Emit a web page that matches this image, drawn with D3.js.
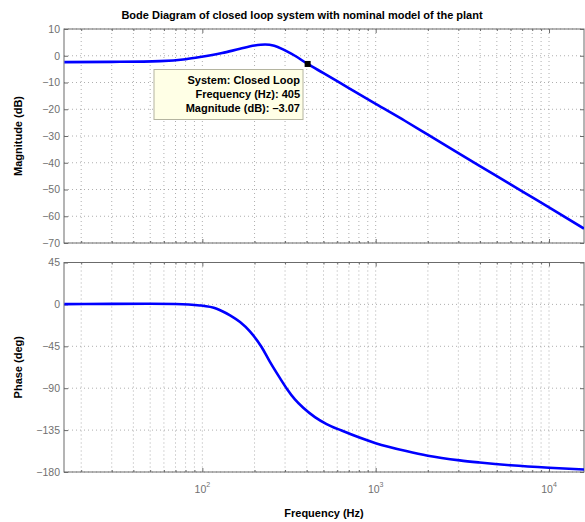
<!DOCTYPE html>
<html>
<head>
<meta charset="utf-8">
<script src="https://cdn.jsdelivr.net/npm/d3@7"></script>
<style>
  html, body { margin: 0; padding: 0; background: #fff; }
  svg { display: block; font-family: "Liberation Sans", Arial, sans-serif; }
</style>
</head>
<body>
<svg id="chart" width="585" height="522"></svg>
<script>
// ---- Data ----
const freqDomain = [15.915, 15915];

const magFreq = [16, 30, 57, 80, 97, 130, 165, 200, 230, 260, 290, 342, 405, 500, 700, 1000, 1472, 2000, 3000, 5000, 7000, 10000, 15915];
const magDb   = [-2.4, -2.3, -2.0, -1.3, -0.5, 1.0, 2.6, 3.8, 4.2, 3.7, 2.5, 0, -3.07, -6.5, -12.1, -18.0, -24.3, -29.5, -36.4, -45.0, -50.7, -56.7, -64.6];

const phaseFreq = [16, 30, 50, 70, 97, 121, 144.5, 165, 188, 220, 245, 281, 307, 342, 382, 446, 521, 636, 1000, 1500, 2000, 3055, 3980, 6000, 10000, 15915];
const phaseDeg  = [0.3, 0.6, 0.7, 0.5, -1.1, -4.6, -11.8, -19, -29, -46, -61.5, -79.5, -90.5, -102, -111, -121, -128.5, -135.5, -149, -157.5, -162.5, -167.5, -169.8, -172.8, -175.5, -177.3];

const magTicks   = [10, 0, -10, -20, -30, -40, -50, -60, -70];
const phaseTicks = [45, 0, -45, -90, -135, -180];
const freqMajor  = [100, 1000, 10000];
const freqMajorLabels = [["10", "2"], ["10", "3"], ["10", "4"]];

const titleText = "Bode Diagram of closed loop system with nominal model of the plant";
const magLabel = "Magnitude (dB)";
const phaseLabel = "Phase (deg)";
const xLabel = "Frequency (Hz)";

const tipFreq = 405;
const tipMag = -3.07;
const tipLines = ["System: Closed Loop", "Frequency (Hz): 405", "Magnitude (dB): \u20133.07"];

// ---- Layout ----
const svg = d3.select("#chart");
const L = 64, R = 584;
const magTop = 29, magBot = 243;
const phTop = 262.5, phBot = 472;

const x = d3.scaleLog().domain(freqDomain).range([L, R]);
const yMag = d3.scaleLinear().domain([-70, 10]).range([magBot, magTop]);
const yPh = d3.scaleLinear().domain([-180, 45]).range([phBot, phTop]);

const axisColor = "#6b6b6b";
const labelColor = "#707070";

// minor frequencies
const freqMinor = [];
[10, 100, 1000, 10000].forEach(d => {
  for (let k = 2; k <= 9; k++) {
    const f = d * k;
    if (f >= freqDomain[0] && f <= freqDomain[1]) freqMinor.push(f);
  }
});
const freqAll = freqMinor.concat(freqMajor).sort((a, b) => a - b);

function panel(yScale, top, bot, yTicks, showXLabels) {
  const g = svg.append("g");
  g.selectAll(".vg").data(freqAll).enter().append("line")
    .attr("x1", d => x(d)).attr("x2", d => x(d))
    .attr("y1", top).attr("y2", bot)
    .attr("stroke", "#9a9a9a").attr("stroke-width", 0.8)
    .attr("stroke-dasharray", "1,3");
  g.selectAll(".hg").data(yTicks).enter().append("line")
    .attr("x1", L).attr("x2", R)
    .attr("y1", d => yScale(d)).attr("y2", d => yScale(d))
    .attr("stroke", "#9a9a9a").attr("stroke-width", 0.8)
    .attr("stroke-dasharray", "1,3");

  const left = g.append("g").attr("transform", `translate(${L},0)`)
    .call(d3.axisLeft(yScale).tickValues(yTicks)
      .tickFormat(d => d < 0 ? "\u2212" + Math.abs(d) : String(d))
      .tickSizeInner(-4).tickSizeOuter(0).tickPadding(4));
  const right = g.append("g").attr("transform", `translate(${R},0)`)
    .call(d3.axisRight(yScale).tickValues(yTicks).tickFormat("")
      .tickSizeInner(-4).tickSizeOuter(0));
  const bottom = g.append("g").attr("transform", `translate(0,${bot})`)
    .call(d3.axisBottom(x).tickValues(freqMajor).tickFormat("")
      .tickSizeInner(-4).tickSizeOuter(0));
  const bottomMinor = g.append("g").attr("transform", `translate(0,${bot})`)
    .call(d3.axisBottom(x).tickValues(freqMinor).tickFormat("")
      .tickSizeInner(-2).tickSizeOuter(0));
  const topAx = g.append("g").attr("transform", `translate(0,${top})`)
    .call(d3.axisTop(x).tickValues(freqMajor).tickFormat("")
      .tickSizeInner(-4).tickSizeOuter(0));
  const topMinor = g.append("g").attr("transform", `translate(0,${top})`)
    .call(d3.axisTop(x).tickValues(freqMinor).tickFormat("")
      .tickSizeInner(-2).tickSizeOuter(0));

  [left, right, bottom, bottomMinor, topAx, topMinor].forEach(a => {
    a.selectAll("path").remove();
    a.selectAll("line").attr("stroke", axisColor);
    a.selectAll("text").attr("fill", labelColor)
      .style("font-family", "'Liberation Sans', Arial, sans-serif")
      .style("font-size", "10.5px");
  });

  g.append("rect").attr("x", L).attr("y", top)
    .attr("width", R - L).attr("height", bot - top)
    .attr("fill", "none").attr("stroke", axisColor).attr("stroke-width", 1);

  if (showXLabels) {
    const lab = g.selectAll(".xl").data(freqMajor).enter().append("text")
      .attr("x", d => x(d)).attr("y", bot + 21)
      .attr("text-anchor", "middle")
      .attr("fill", labelColor)
      .style("font-size", "10.5px");
    lab.append("tspan").text((d, i) => freqMajorLabels[i][0]);
    lab.append("tspan").attr("dy", -6).style("font-size", "7px")
      .text((d, i) => freqMajorLabels[i][1]);
  }
  return g;
}

panel(yMag, magTop, magBot, magTicks, false);
panel(yPh, phTop, phBot, phaseTicks, true);

// ---- Curves ----
const magData = magFreq.map((f, i) => [f, magDb[i]]);
const phData = phaseFreq.map((f, i) => [f, phaseDeg[i]]);

const defs = svg.append("defs");
defs.append("clipPath").attr("id", "cm")
  .append("rect").attr("x", L).attr("y", magTop).attr("width", R - L).attr("height", magBot - magTop);
defs.append("clipPath").attr("id", "cp")
  .append("rect").attr("x", L).attr("y", phTop).attr("width", R - L).attr("height", phBot - phTop);

svg.append("path").datum(magData)
  .attr("clip-path", "url(#cm)")
  .attr("d", d3.line().x(d => x(d[0])).y(d => yMag(d[1])).curve(d3.curveMonotoneX))
  .attr("fill", "none").attr("stroke", "#0000ff").attr("stroke-width", 2.6);

svg.append("path").datum(phData)
  .attr("clip-path", "url(#cp)")
  .attr("d", d3.line().x(d => x(d[0])).y(d => yPh(d[1])).curve(d3.curveMonotoneX))
  .attr("fill", "none").attr("stroke", "#0000ff").attr("stroke-width", 2.6);

// ---- Data tip ----
const tipG = svg.append("g");
const boxX = 154, boxY = 69.5, boxW = 149, boxH = 50;
tipG.append("rect").attr("x", boxX).attr("y", boxY).attr("width", boxW).attr("height", boxH)
  .attr("fill", "#ffffe6").attr("stroke", "#b4b4a0").attr("stroke-width", 1);
tipG.selectAll("text").data(tipLines).enter().append("text")
  .attr("x", boxX + boxW - 3).attr("y", (d, i) => boxY + 14.5 + i * 14)
  .attr("text-anchor", "end").attr("fill", "#000")
  .style("font-size", "11px").style("font-weight", "bold")
  .text(d => d);
tipG.append("rect")
  .attr("x", x(tipFreq) - 3).attr("y", yMag(tipMag) - 3)
  .attr("width", 6).attr("height", 6).attr("fill", "#000");

// ---- Titles / labels ----
svg.append("text").attr("x", 302).attr("y", 19)
  .attr("text-anchor", "middle").attr("fill", "#000")
  .style("font-size", "11px").style("font-weight", "bold").text(titleText);

svg.append("text")
  .attr("transform", `translate(22,${(magTop + magBot) / 2}) rotate(-90)`)
  .attr("text-anchor", "middle").attr("fill", "#000")
  .style("font-size", "11px").style("font-weight", "bold").text(magLabel);

svg.append("text")
  .attr("transform", `translate(22,${(phTop + phBot) / 2}) rotate(-90)`)
  .attr("text-anchor", "middle").attr("fill", "#000")
  .style("font-size", "11px").style("font-weight", "bold").text(phaseLabel);

svg.append("text").attr("x", (L + R) / 2).attr("y", 517)
  .attr("text-anchor", "middle").attr("fill", "#000")
  .style("font-size", "11px").style("font-weight", "bold").text(xLabel);
</script>
</body>
</html>
